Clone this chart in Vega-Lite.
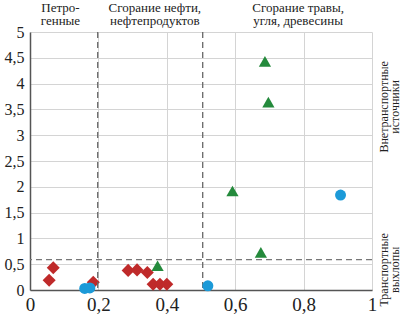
{
  "$schema": "https://vega.github.io/schema/vega-lite/v6.json",
  "width": 342,
  "height": 258,
  "autosize": "none",
  "padding": {"left": 30, "top": 32, "right": 30, "bottom": 28},
  "background": "white",
  "config": {
    "view": {"stroke": null},
    "font": "Liberation Serif",
    "axis": {
      "gridColor": "#d4d4d4", "gridWidth": 1, "ticks": false,
      "domainColor": "#555555", "domainWidth": 1.5,
      "labelColor": "#222222", "labelFlush": false
    }
  },
  "datasets": {
    "points": [
      {"x": 0.056, "y": 0.19, "type": "A"},
      {"x": 0.068, "y": 0.43, "type": "A"},
      {"x": 0.185, "y": 0.15, "type": "A"},
      {"x": 0.287, "y": 0.38, "type": "A"},
      {"x": 0.313, "y": 0.39, "type": "A"},
      {"x": 0.343, "y": 0.34, "type": "A"},
      {"x": 0.36, "y": 0.11, "type": "A"},
      {"x": 0.38, "y": 0.11, "type": "A"},
      {"x": 0.40, "y": 0.11, "type": "A"},
      {"x": 0.373, "y": 0.47, "type": "C"},
      {"x": 0.592, "y": 1.92, "type": "C"},
      {"x": 0.675, "y": 0.73, "type": "C"},
      {"x": 0.687, "y": 4.43, "type": "C"},
      {"x": 0.697, "y": 3.64, "type": "C"},
      {"x": 0.16, "y": 0.03, "type": "B"},
      {"x": 0.175, "y": 0.04, "type": "B"},
      {"x": 0.52, "y": 0.08, "type": "B"},
      {"x": 0.908, "y": 1.84, "type": "B"}
    ],
    "vlines": [{"x": 0.198}, {"x": 0.505}],
    "hlines": [{"y": 0.59}],
    "toplabels": [
      {"x": 0.089, "y": 5.38, "label": "Петро-\nгенные"},
      {"x": 0.365, "y": 5.38, "label": "Сгорание нефти,\nнефтепродуктов"},
      {"x": 0.784, "y": 5.38, "label": "Сгорание травы,\nугля, древесины"}
    ],
    "sidelabels": [
      {"x": 1.034, "y": 3.55, "label": "Внетранспортные\nисточники"},
      {"x": 1.034, "y": 0.39, "label": "Транспортные\nвыхлопы"}
    ]
  },
  "layer": [
    {
      "data": {"name": "points"},
      "transform": [{"filter": "datum.type === 'A'"}],
      "mark": {"type": "point", "shape": "diamond", "filled": true, "opacity": 1, "color": "#bf2a2a", "size": 170},
      "encoding": {
        "x": {"field": "x", "type": "quantitative", "scale": {"domain": [0, 1], "nice": false, "zero": false},
          "axis": {"title": null, "tickCount": 5, "grid": true, "labelFontSize": 19, "labelPadding": 5, "labelOverlap": false, "labelFlush": false, "labelExpr": "replace(format(datum.value, '~g'), '.', ',')"}},
        "y": {"field": "y", "type": "quantitative", "scale": {"domain": [0, 5], "nice": false, "zero": false},
          "axis": {"title": null, "tickCount": 10, "grid": true, "labelFontSize": 16, "labelPadding": 6, "labelOverlap": false, "labelFlush": false, "labelExpr": "replace(format(datum.value, '~g'), '.', ',')"}}
      }
    },
    {
      "data": {"name": "vlines"},
      "mark": {"type": "rule", "strokeDash": [6, 4], "color": "#666666", "strokeWidth": 1.3},
      "encoding": {
        "x": {"field": "x", "type": "quantitative", "scale": {"domain": [0, 1], "nice": false, "zero": false},
          "axis": {"title": null, "tickCount": 5, "grid": true, "labelFontSize": 19, "labelPadding": 5, "labelOverlap": false, "labelFlush": false, "labelExpr": "replace(format(datum.value, '~g'), '.', ',')"}}
      }
    },
    {
      "data": {"name": "hlines"},
      "mark": {"type": "rule", "strokeDash": [6, 4], "color": "#777777", "strokeWidth": 1.3},
      "encoding": {
        "y": {"field": "y", "type": "quantitative", "scale": {"domain": [0, 5], "nice": false, "zero": false},
          "axis": {"title": null, "tickCount": 10, "grid": true, "labelFontSize": 16, "labelPadding": 6, "labelOverlap": false, "labelFlush": false, "labelExpr": "replace(format(datum.value, '~g'), '.', ',')"}}
      }
    },
    {
      "data": {"name": "points"},
      "transform": [{"filter": "datum.type === 'C'"}],
      "mark": {"type": "point", "shape": "triangle-up", "filled": true, "opacity": 1, "color": "#248a3c", "size": 150},
      "encoding": {
        "x": {"field": "x", "type": "quantitative", "scale": {"domain": [0, 1], "nice": false, "zero": false},
          "axis": {"title": null, "tickCount": 5, "grid": true, "labelFontSize": 19, "labelPadding": 5, "labelOverlap": false, "labelFlush": false, "labelExpr": "replace(format(datum.value, '~g'), '.', ',')"}},
        "y": {"field": "y", "type": "quantitative", "scale": {"domain": [0, 5], "nice": false, "zero": false},
          "axis": {"title": null, "tickCount": 10, "grid": true, "labelFontSize": 16, "labelPadding": 6, "labelOverlap": false, "labelFlush": false, "labelExpr": "replace(format(datum.value, '~g'), '.', ',')"}}
      }
    },
    {
      "data": {"name": "points"},
      "transform": [{"filter": "datum.type === 'B'"}],
      "mark": {"type": "point", "shape": "circle", "filled": true, "opacity": 1, "color": "#1c9ad8", "size": 121},
      "encoding": {
        "x": {"field": "x", "type": "quantitative", "scale": {"domain": [0, 1], "nice": false, "zero": false},
          "axis": {"title": null, "tickCount": 5, "grid": true, "labelFontSize": 19, "labelPadding": 5, "labelOverlap": false, "labelFlush": false, "labelExpr": "replace(format(datum.value, '~g'), '.', ',')"}},
        "y": {"field": "y", "type": "quantitative", "scale": {"domain": [0, 5], "nice": false, "zero": false},
          "axis": {"title": null, "tickCount": 10, "grid": true, "labelFontSize": 16, "labelPadding": 6, "labelOverlap": false, "labelFlush": false, "labelExpr": "replace(format(datum.value, '~g'), '.', ',')"}}
      }
    },
    {
      "data": {"name": "toplabels"},
      "mark": {"type": "text", "align": "center", "baseline": "alphabetic", "fontSize": 13, "lineHeight": 12.5, "lineBreak": "\n", "color": "#222222"},
      "encoding": {
        "x": {"field": "x", "type": "quantitative", "scale": {"domain": [0, 1], "nice": false, "zero": false},
          "axis": {"title": null, "tickCount": 5, "grid": true, "labelFontSize": 19, "labelPadding": 5, "labelOverlap": false, "labelFlush": false, "labelExpr": "replace(format(datum.value, '~g'), '.', ',')"}},
        "y": {"field": "y", "type": "quantitative", "scale": {"domain": [0, 5], "nice": false, "zero": false},
          "axis": {"title": null, "tickCount": 10, "grid": true, "labelFontSize": 16, "labelPadding": 6, "labelOverlap": false, "labelFlush": false, "labelExpr": "replace(format(datum.value, '~g'), '.', ',')"}},
        "text": {"field": "label"}
      }
    },
    {
      "data": {"name": "sidelabels"},
      "mark": {"type": "text", "align": "center", "baseline": "middle", "angle": 270, "fontSize": 12, "lineHeight": 11, "lineBreak": "\n", "color": "#222222"},
      "encoding": {
        "x": {"field": "x", "type": "quantitative", "scale": {"domain": [0, 1], "nice": false, "zero": false},
          "axis": {"title": null, "tickCount": 5, "grid": true, "labelFontSize": 19, "labelPadding": 5, "labelOverlap": false, "labelFlush": false, "labelExpr": "replace(format(datum.value, '~g'), '.', ',')"}},
        "y": {"field": "y", "type": "quantitative", "scale": {"domain": [0, 5], "nice": false, "zero": false},
          "axis": {"title": null, "tickCount": 10, "grid": true, "labelFontSize": 16, "labelPadding": 6, "labelOverlap": false, "labelFlush": false, "labelExpr": "replace(format(datum.value, '~g'), '.', ',')"}},
        "text": {"field": "label"}
      }
    }
  ]
}
